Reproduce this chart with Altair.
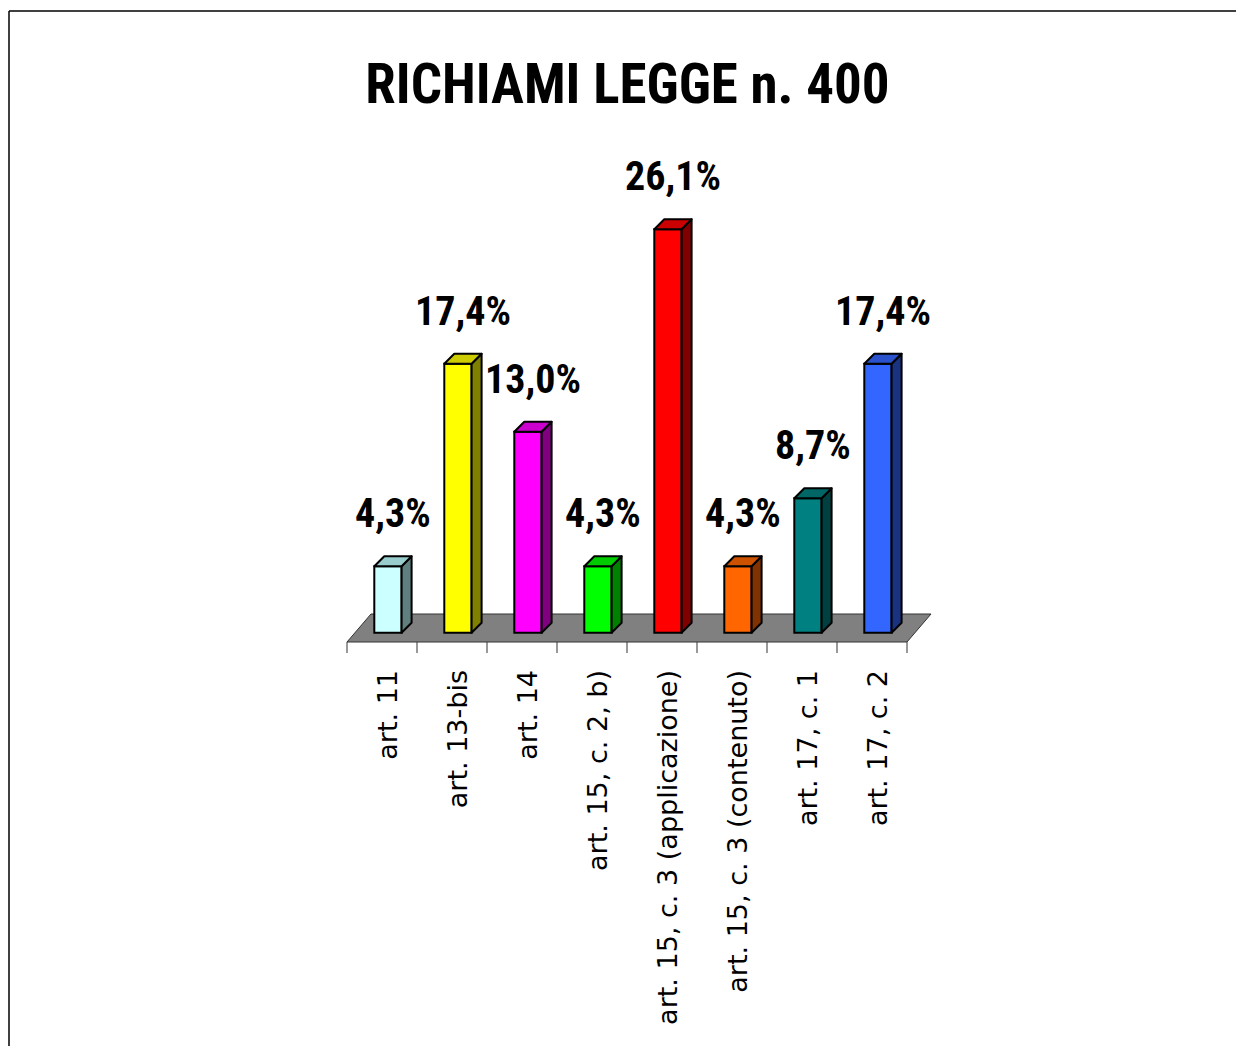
import altair as alt
import pandas as pd

# ---------------- data ----------------
categories = [
    "art. 11",
    "art. 13-bis",
    "art. 14",
    "art. 15, c. 2, b)",
    "art. 15, c. 3 (applicazione)",
    "art. 15, c. 3 (contenuto)",
    "art. 17, c. 1",
    "art. 17, c. 2",
]
values = [4.3, 17.4, 13.0, 4.3, 26.1, 4.3, 8.7, 17.4]
title_text = "RICHIAMI LEGGE n. 400"

# palette (front / top / side faces)
front_colors = ["#CCFFFF", "#FFFF00", "#FF00FF", "#00FF00", "#FF0000", "#FF6600", "#008080", "#3366FF"]
top_colors = ["#99CCCC", "#CCCC00", "#CC00CC", "#00CC00", "#CC0000", "#CC5200", "#006666", "#2952CC"]
side_colors = ["#608080", "#808000", "#800080", "#008000", "#800000", "#803300", "#004040", "#1A3380"]

FONT_BOLD = "Roboto Condensed, Liberation Sans Narrow, Arial Narrow, Roboto, sans-serif"
FONT_REG = "DejaVu Sans, Liberation Sans, Arial, sans-serif"

# ---------------- layout constants ----------------
PAD_L, PAD_T = 9, 11
W, H = 1236 - PAD_L, 1046 - PAD_T
X0_PX = 347.0       # left end of category axis
PX_PER_CAT = 70.0
BASE_PX = 632.7     # pixel row of value 0 (bar base)
PX_PER_PCT = 15.46

XMIN = (PAD_L - X0_PX) / PX_PER_CAT
XMAX = (PAD_L + W - X0_PX) / PX_PER_CAT
YMAX = (BASE_PX - PAD_T) / PX_PER_PCT
YMIN = (BASE_PX - (PAD_T + H)) / PX_PER_PCT

BAR_L, BAR_R = 0.39, 0.78                 # bar front face within a category (units)
DXU = 10 / PX_PER_CAT                     # 3D depth, x
DYU = 10 / PX_PER_PCT                     # 3D depth, y
FLOOR_FRONT = (BASE_PX - 642) / PX_PER_PCT
FLOOR_BACK = (BASE_PX - 614) / PX_PER_PCT
FLOOR_DX = 24 / PX_PER_CAT
TICK_BOTTOM = (BASE_PX - 653) / PX_PER_PCT
LABEL_Y = (BASE_PX - 670) / PX_PER_PCT
LABEL_DX = 0.5 + 15 / PX_PER_CAT

n = len(categories)
xs = alt.Scale(domain=[XMIN, XMAX], nice=False, zero=False)
ys = alt.Scale(domain=[YMIN, YMAX], nice=False, zero=False)


def fmt(v):
    return f"{v:.1f}".replace(".", ",") + "%"


bars = pd.DataFrame({"cat": categories, "v": values})
bars["i"] = range(n)
bars["L"] = bars["i"] + BAR_L
bars["R"] = bars["i"] + BAR_R
bars["cx"] = (bars["L"] + bars["R"]) / 2 + DXU / 2
bars["ty"] = bars["v"] + DYU
bars["label"] = [fmt(v) for v in values]
bars["lx"] = bars["i"] + LABEL_DX
bars["ly"] = LABEL_Y

side_rows, top_rows = [], []
for c, v, L, R in zip(categories, values, bars["L"], bars["R"]):
    side_rows.append({"cat": c, "x": R, "y": v, "y2": 0.0})
    side_rows.append({"cat": c, "x": R + DXU, "y": v + DYU, "y2": DYU})
    top_rows.append({"cat": c, "y": v, "x": L, "x2": R})
    top_rows.append({"cat": c, "y": v + DYU, "x": L + DXU, "x2": R + DXU})
sides = pd.DataFrame(side_rows)
tops = pd.DataFrame(top_rows)

floor = pd.DataFrame({
    "y": [FLOOR_FRONT, FLOOR_BACK],
    "x": [0.0, FLOOR_DX],
    "x2": [float(n), n + FLOOR_DX],
})
ticks = pd.DataFrame({"x": [float(k) for k in range(n + 1)]})
ticks["y"] = FLOOR_FRONT
ticks["y2"] = TICK_BOTTOM

one = pd.DataFrame({"a": [0]})

# ---------------- layers ----------------
border_top = alt.Chart(one).mark_rule(color="black", strokeWidth=1.5).encode(
    x=alt.value(0), x2=alt.value(W), y=alt.value(0)
)
border_left = alt.Chart(one).mark_rule(color="black", strokeWidth=1.5).encode(
    x=alt.value(0), y=alt.value(0), y2=alt.value(H)
)

floor_layer = alt.Chart(floor).mark_area(
    orient="horizontal", fill="#808080", stroke="#333333", strokeWidth=1
).encode(
    y=alt.Y("y:Q", scale=ys, axis=None),
    x=alt.X("x:Q", scale=xs, axis=None),
    x2="x2:Q",
)

tick_layer = alt.Chart(ticks).mark_rule(color="#333333", strokeWidth=1).encode(
    x=alt.X("x:Q", scale=xs, axis=None),
    y=alt.Y("y:Q", scale=ys, axis=None),
    y2="y2:Q",
)

axis_labels = alt.Chart(bars).mark_text(
    angle=270, align="right", baseline="alphabetic",
    font=FONT_REG, fontSize=27, color="black",
).encode(
    x=alt.X("lx:Q", scale=xs, axis=None),
    y=alt.Y("ly:Q", scale=ys, axis=None),
    text="cat:N",
)

fronts = alt.Chart(bars).mark_rect(stroke="black", strokeWidth=2).encode(
    x=alt.X("L:Q", scale=xs, axis=None),
    x2="R:Q",
    y=alt.Y("v:Q", scale=ys, axis=None),
    y2=alt.datum(0),
    fill=alt.Fill("cat:N", scale=alt.Scale(domain=categories, range=front_colors), legend=None),
)

side_layer = alt.Chart(sides).mark_area(
    orient="vertical", stroke="black", strokeWidth=2, strokeJoin="round", interpolate="linear"
).encode(
    x=alt.X("x:Q", scale=xs, axis=None),
    y=alt.Y("y:Q", scale=ys, axis=None),
    y2="y2:Q",
    detail="cat:N",
    fill=alt.Fill("cat:N", scale=alt.Scale(domain=categories, range=side_colors), legend=None),
)

top_layer = alt.Chart(tops).mark_area(
    orient="horizontal", stroke="black", strokeWidth=2, strokeJoin="round", interpolate="linear"
).encode(
    y=alt.Y("y:Q", scale=ys, axis=None),
    x=alt.X("x:Q", scale=xs, axis=None),
    x2="x2:Q",
    detail="cat:N",
    fill=alt.Fill("cat:N", scale=alt.Scale(domain=categories, range=top_colors), legend=None),
)

value_labels = alt.Chart(bars).mark_text(
    align="center", baseline="alphabetic", dy=-29,
    font=FONT_BOLD, fontWeight="bold", fontSize=40, color="black",
).encode(
    x=alt.X("cx:Q", scale=xs, axis=None),
    y=alt.Y("ty:Q", scale=ys, axis=None),
    text="label:N",
)

chart = alt.layer(
    border_top, border_left, floor_layer, tick_layer, axis_labels,
    fronts, side_layer, top_layer, value_labels,
).resolve_scale(fill="independent").properties(
    width=W,
    height=H,
    padding={"left": PAD_L, "top": PAD_T, "right": 0, "bottom": 0},
    autosize="none",
    background="white",
    title=alt.TitleParams(
        title_text, font=FONT_BOLD, fontWeight="bold", fontSize=55, color="black",
        anchor="middle", frame="group", baseline="alphabetic", offset=-148, dx=5,
    ),
).configure_view(stroke=None)

chart.save("out.html", embed_options={"renderer": "svg", "actions": False})
